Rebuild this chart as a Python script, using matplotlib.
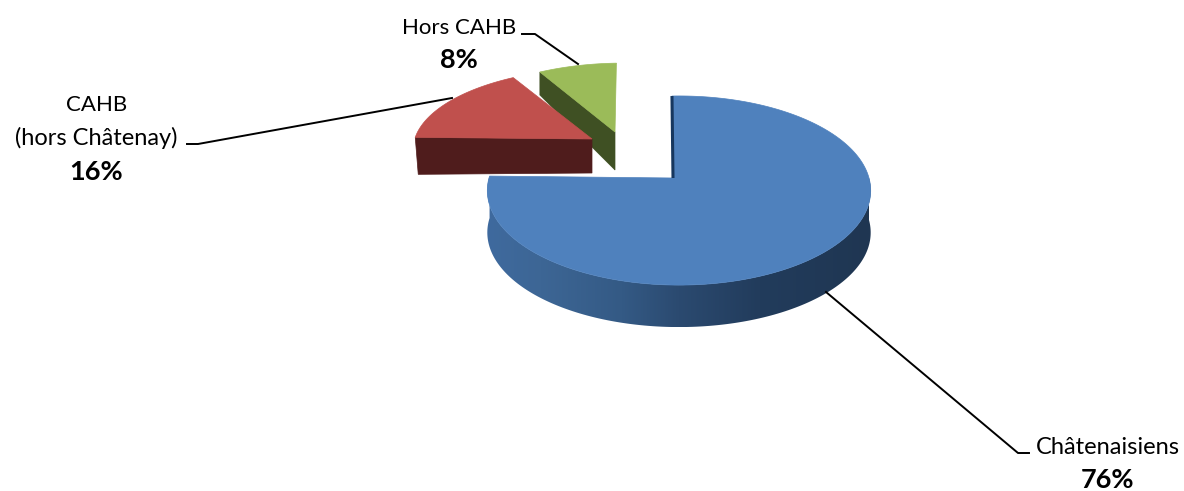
"""Exploded pseudo-3D pie: origin of participants."""

import matplotlib
matplotlib.use("Agg")
import matplotlib.pyplot as plt
from matplotlib.colors import LinearSegmentedColormap
from matplotlib.patches import Polygon
import numpy as np

# --- data -------------------------------------------------------------------
LABELS = ["Châtenaisiens", "CAHB\n(hors Châtenay)", "Hors CAHB"]
SHARES = [76, 16, 8]

# --- look -------------------------------------------------------------------
START_ANGLE = -2.4  # degrees clockwise from 12 o'clock
TILT = 92.9         # vertical radius before perspective
PERSPECTIVE = 0.1324

# per slice: apex, rim x offset from apex, rim radius, x/y scale, wall depth at apex / rim
GEOM = [
    dict(apex=(673, 178), off=6, rx=190, sx=1.0, sy=1.0, d0=42, d1=42, lean=0,
         top="#4f81bd", side="#17375e"),
    dict(apex=(592, 139), off=7, rx=190, sx=0.97, sy=0.86, d0=34, d1=37, lean=3,
         top="#c0504d", side="#4f1c1c"),
    dict(apex=(615, 132), off=8, rx=190, sx=0.94, sy=0.84, d0=38, d1=23, lean=0,
         top="#9bbb59", side="#3f5023"),
]
SIDE_STOPS = [0.0, 0.14, 0.35, 0.50, 0.71, 1.0]
SIDE_COLORS = ["#3f6a9e", "#3d6695", "#345a85", "#2b4a70", "#223c5c", "#1f3652"]

LEADERS = [
    [(826, 292), (1018, 453), (1029, 453)],
    [(452, 98), (198, 144), (187, 144)],
    [(578, 64), (535, 34), (522, 34)],
]
# one entry per text line: x, y, size
NAME_STYLE = [
    [(1108, 447, 17)],
    [(97, 105, 16), (96, 138, 17)],
    [(459, 28, 16)],
]
PCT_POS = [(1108, 480), (96, 172), (459, 60)]


def rim(theta, g):
    """Screen position of the rim of a slice at theta (deg clockwise from top)."""
    t = np.radians(theta)
    u, v = np.sin(t), np.cos(t)
    w = 1 + PERSPECTIVE * v
    x = g["apex"][0] + g["off"] + g["sx"] * g["rx"] * u / w
    y = g["apex"][1] - g["sy"] * TILT * v / w
    return x, y


fig = plt.figure(figsize=(11.84, 4.91), dpi=100)
ax = fig.add_axes([0, 0, 1, 1])
plt.rcParams["font.family"] = ["Lato", "DejaVu Sans"]

edges = START_ANGLE + np.cumsum([0] + SHARES) * 3.6
slices = [(edges[i], edges[i + 1], GEOM[i]) for i in range(len(SHARES))]

# back to front: green, red, blue
for a0, a1, g in reversed(slices):
    theta = np.linspace(a0, a1, 200)
    rx, ry = rim(theta, g)
    ax_, ay_ = g["apex"]
    if g is GEOM[0]:
        # outer wall, shaded across its width
        th = np.linspace(90, a1, 160)
        xs, ys = rim(th, g)
        wall = Polygon(np.c_[np.r_[xs, xs[::-1]], np.r_[ys, ys[::-1] + g["d1"]]],
                       closed=True, fc="none", ec="none", transform=ax.transData)
        ax.add_patch(wall)
        cmap = LinearSegmentedColormap.from_list("wall", list(zip(SIDE_STOPS, SIDE_COLORS)))
        im = ax.imshow(np.linspace(0, 1, 256)[None, :], cmap=cmap, aspect="auto",
                       extent=(xs.min(), xs.max(), ys.max() + g["d1"], ys.min()))
        im.set_clip_path(wall)
        # sliver of the inner wall at the notch
        x0, y0 = rim(a0, g)
        ax.plot([x0, ax_], [y0, ay_], color=g["side"], lw=2.2, solid_capstyle="butt")
    else:
        # radial wall facing the viewer
        xe, ye = rim(a0, g)
        ax.fill([xe, ax_, ax_, xe + g["lean"]], [ye, ay_, ay_ + g["d0"], ye + g["d1"]],
                color=g["side"], lw=0.5)
    ax.fill(np.r_[ax_, rx], np.r_[ay_, ry], color=g["top"], lw=0.5)

for pts in LEADERS:
    ax.plot(*zip(*pts), color="black", lw=1.4)

for name, share, style, ppos in zip(LABELS, SHARES, NAME_STYLE, PCT_POS):
    for line, (x, y, size) in zip(name.split("\n"), style):
        ax.text(x, y, line, ha="center", va="center", fontsize=size, color="black")
    ax.text(*ppos, f"{share}%", ha="center", va="center", fontsize=19.5,
            fontweight="bold", color="black")

ax.set_xlim(0, 1184)
ax.set_ylim(491, 0)
ax.axis("off")

fig.savefig("out.png", dpi=100, facecolor="white")
